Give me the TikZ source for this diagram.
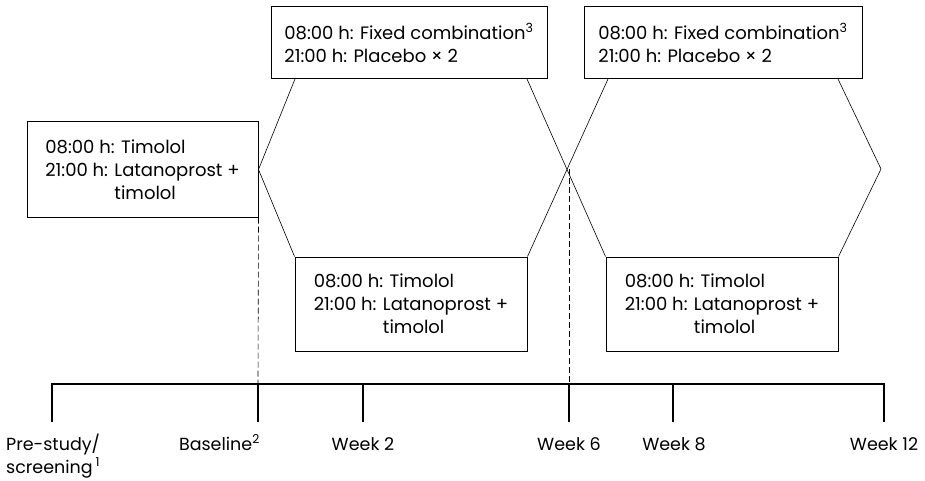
\documentclass[tikz,border=0pt]{standalone}
\usepackage{fontspec}
\setmainfont{Poppins}
\begin{document}
\begin{tikzpicture}[x=1pt,y=-1pt,
  box/.style={draw,line width=1pt,inner sep=0pt,anchor=center,align=left,
    font=\fontsize{18}{23}\selectfont},
  hexline/.style={line width=0.6pt},
  dashline/.style={line width=0.6pt,dash pattern=on 6pt off 3pt},
  axisline/.style={line width=1.1pt},
  lab/.style={font=\fontsize{17.5}{23}\selectfont,inner sep=0pt}]
\useasboundingbox (0,0) rectangle (925,481);
% boxes
\node[box,minimum width=231,minimum height=95] (L) at (142.5,169.5)
  {08:00 h: Timolol\\ 21:00 h: Latanoprost +\\ \hphantom{21:00 h: }timolol};
\node[box,minimum width=276,minimum height=72] (T1) at (409,43)
  {08:00 h: Fixed combination\textsuperscript{3}\\ 21:00 h: Placebo × 2};
\node[box,minimum width=278,minimum height=72] (T2) at (723,43)
  {08:00 h: Fixed combination\textsuperscript{3}\\ 21:00 h: Placebo × 2};
\node[box,minimum width=232,minimum height=94] (B1) at (411,304)
  {08:00 h: Timolol\\ 21:00 h: Latanoprost +\\ \hphantom{21:00 h: }timolol};
\node[box,minimum width=232,minimum height=94] (B2) at (722,304)
  {08:00 h: Timolol\\ 21:00 h: Latanoprost +\\ \hphantom{21:00 h: }timolol};
% hexagon coordinates
\coordinate (t1a) at (295,79);
\coordinate (t1b) at (527,79);
\coordinate (t2a) at (608,79);
\coordinate (t2b) at (838,79);
\coordinate (vR) at (881,169);
\coordinate (X) at (569,169);
\draw[hexline] (t1a) -- (L.east) -- (B1.north west);
\draw[hexline] (t1b) -- (B2.north west);
\draw[hexline] (t2a) -- (B1.north east);
\draw[hexline] (t2b) -- (vR) -- (B2.north east);
% timeline
\coordinate (a0) at (52,384);
\coordinate (a1) at (258,384);
\coordinate (a2) at (363,384);
\coordinate (a3) at (569,384);
\coordinate (a4) at (673,384);
\coordinate (a5) at (884,384);
\coordinate (b0) at (52,422);
\coordinate (b1) at (258,422);
\coordinate (b2) at (363,422);
\coordinate (b3) at (569,422);
\coordinate (b4) at (673,422);
\coordinate (b5) at (884,422);
\draw[dashline] (L.south east) -- (a1);
\draw[dashline] (X) -- (a3);
\draw[axisline] (b0) -- (a0) -- (a5) -- (b5);
\draw[axisline] (a1) -- (b1);
\draw[axisline] (a2) -- (b2);
\draw[axisline] (a3) -- (b3);
\draw[axisline] (a4) -- (b4);
% labels
\node[lab,anchor=base west] (l0) at (6,450)
  {\begin{tabular}[t]{@{}l@{}}Pre-study/\\ screening\,\textsuperscript{1}\end{tabular}};
\node[lab,anchor=base east] (l1) at (260,450) {Baseline\textsuperscript{2}};
\node[lab,anchor=base] (l2) at (363,450) {Week 2};
\node[lab,anchor=base] (l3) at (569,450) {Week 6};
\node[lab,anchor=base] (l4) at (674,450) {Week 8};
\node[lab,anchor=base] (l5) at (884,450) {Week 12};
\end{tikzpicture}
\end{document}
